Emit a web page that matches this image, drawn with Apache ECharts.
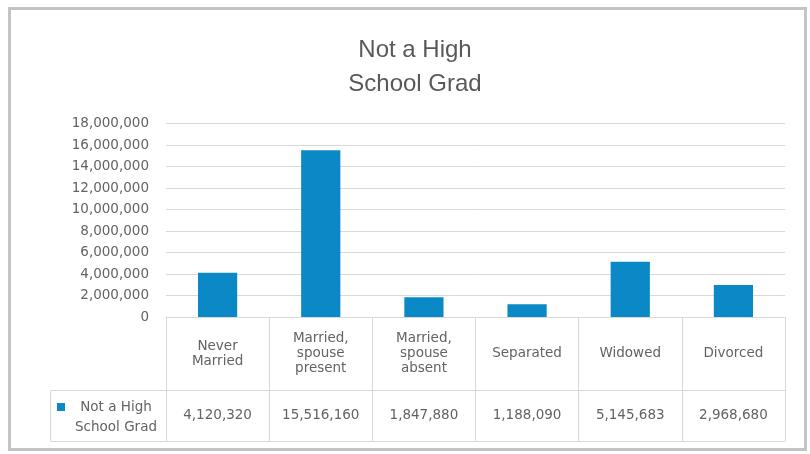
<!DOCTYPE html>
<html>
<head>
<meta charset="utf-8">
<script src="https://cdn.jsdelivr.net/npm/echarts@6/dist/echarts.min.js"></script>
<style>
  html, body { margin: 0; padding: 0; background: #ffffff; }
  #chart { width: 810px; height: 454px; }
</style>
</head>
<body>
<div id="chart"></div>
<script>
// Marital status of people who did not graduate high school
const categories = ['Never\nMarried', 'Married,\nspouse\npresent', 'Married,\nspouse\nabsent', 'Separated', 'Widowed', 'Divorced'];
const seriesName = 'Not a High School Grad';
const values = [4120320, 15516160, 1847880, 1188090, 5145683, 2968680];
const yTicks = [0, 2000000, 4000000, 6000000, 8000000, 10000000, 12000000, 14000000, 16000000, 18000000];

const fmt = v => v.toLocaleString('en-US');
const textColor = '#636363';
const lineColor = '#d9d9d9';
const barColor = '#0b88c6';
const smallFont = 'DejaVu Sans';

const chart = echarts.init(document.getElementById('chart'));

// Plot area and table geometry
const gLeft = 166, gRight = 785, gTop = 123.5, gBottom = 317;
const rowCat = 73, rowVal = 51;

chart.setOption({
  animation: false,
  title: {
    text: 'Not a High\nSchool Grad',
    left: 410,
    textAlign: 'center',
    top: 28,
    textStyle: { fontFamily: 'Liberation Sans', fontSize: 24, fontWeight: 'normal', color: '#595959', lineHeight: 34 }
  },
  legend: {
    data: [seriesName],
    left: 52,
    top: 395,
    itemWidth: 8,
    itemHeight: 8,
    itemGap: 0,
    icon: 'rect',
    formatter: () => '{c|Not a High}\n{c|School Grad}',
    textStyle: {
      padding: [20, 0, 0, 0],
      rich: {
        c: { fontFamily: smallFont, fontSize: 13.5, color: textColor, lineHeight: 20, width: 92, align: 'center' }
      }
    }
  },
  grid: { left: gLeft, right: 810 - gRight, top: gTop, bottom: 454 - gBottom, containLabel: false },
  xAxis: [
    {
      type: 'category',
      data: categories,
      position: 'bottom',
      axisLine: { show: true, lineStyle: { color: lineColor, width: 1 } },
      axisTick: { show: true, length: rowCat, interval: 0, lineStyle: { color: lineColor } },
      axisLabel: {
        interval: 0, margin: rowCat / 2, fontFamily: smallFont, fontSize: 13.5, color: textColor,
        lineHeight: 15, verticalAlign: 'middle'
      }
    },
    {
      type: 'category',
      data: values.map(fmt),
      position: 'bottom',
      offset: rowCat,
      axisLine: { show: true, lineStyle: { color: lineColor, width: 1 } },
      axisTick: { show: true, length: rowVal, interval: 0, lineStyle: { color: lineColor } },
      axisLabel: { interval: 0, margin: rowVal / 2, fontFamily: smallFont, fontSize: 13.5, color: textColor, verticalAlign: 'middle' }
    },
    {
      type: 'category',
      data: categories,
      position: 'bottom',
      offset: rowCat + rowVal,
      axisLine: { show: true, lineStyle: { color: lineColor, width: 1 } },
      axisTick: { show: false },
      axisLabel: { show: false }
    }
  ],
  yAxis: {
    type: 'value',
    min: yTicks[0],
    max: yTicks[yTicks.length - 1],
    interval: yTicks[1] - yTicks[0],
    axisLine: { show: false },
    axisTick: { show: false },
    splitLine: { lineStyle: { color: lineColor, width: 1 } },
    axisLabel: { margin: 17, fontFamily: smallFont, fontSize: 13.5, color: textColor, formatter: v => fmt(v) }
  },
  series: [{
    name: seriesName,
    type: 'bar',
    data: values,
    barWidth: '38%',
    itemStyle: { color: barColor }
  }]
});

// Legend cell of the data table and the outer frame
const yBase = Math.round(chart.convertToPixel({ yAxisIndex: 0 }, 0));
chart.setOption({
  graphic: [
    {
      type: 'rect',
      shape: { x: 50.5, y: yBase + rowCat + 0.5, width: gLeft - 50, height: rowVal },
      style: { fill: null, stroke: lineColor, lineWidth: 1 },
      silent: true
    },
    {
      type: 'rect',
      shape: { x: 9.5, y: 8.5, width: 796, height: 441 },
      style: { fill: null, stroke: '#c4c4c4', lineWidth: 3 },
      silent: true
    }
  ]
});
</script>
</body>
</html>
